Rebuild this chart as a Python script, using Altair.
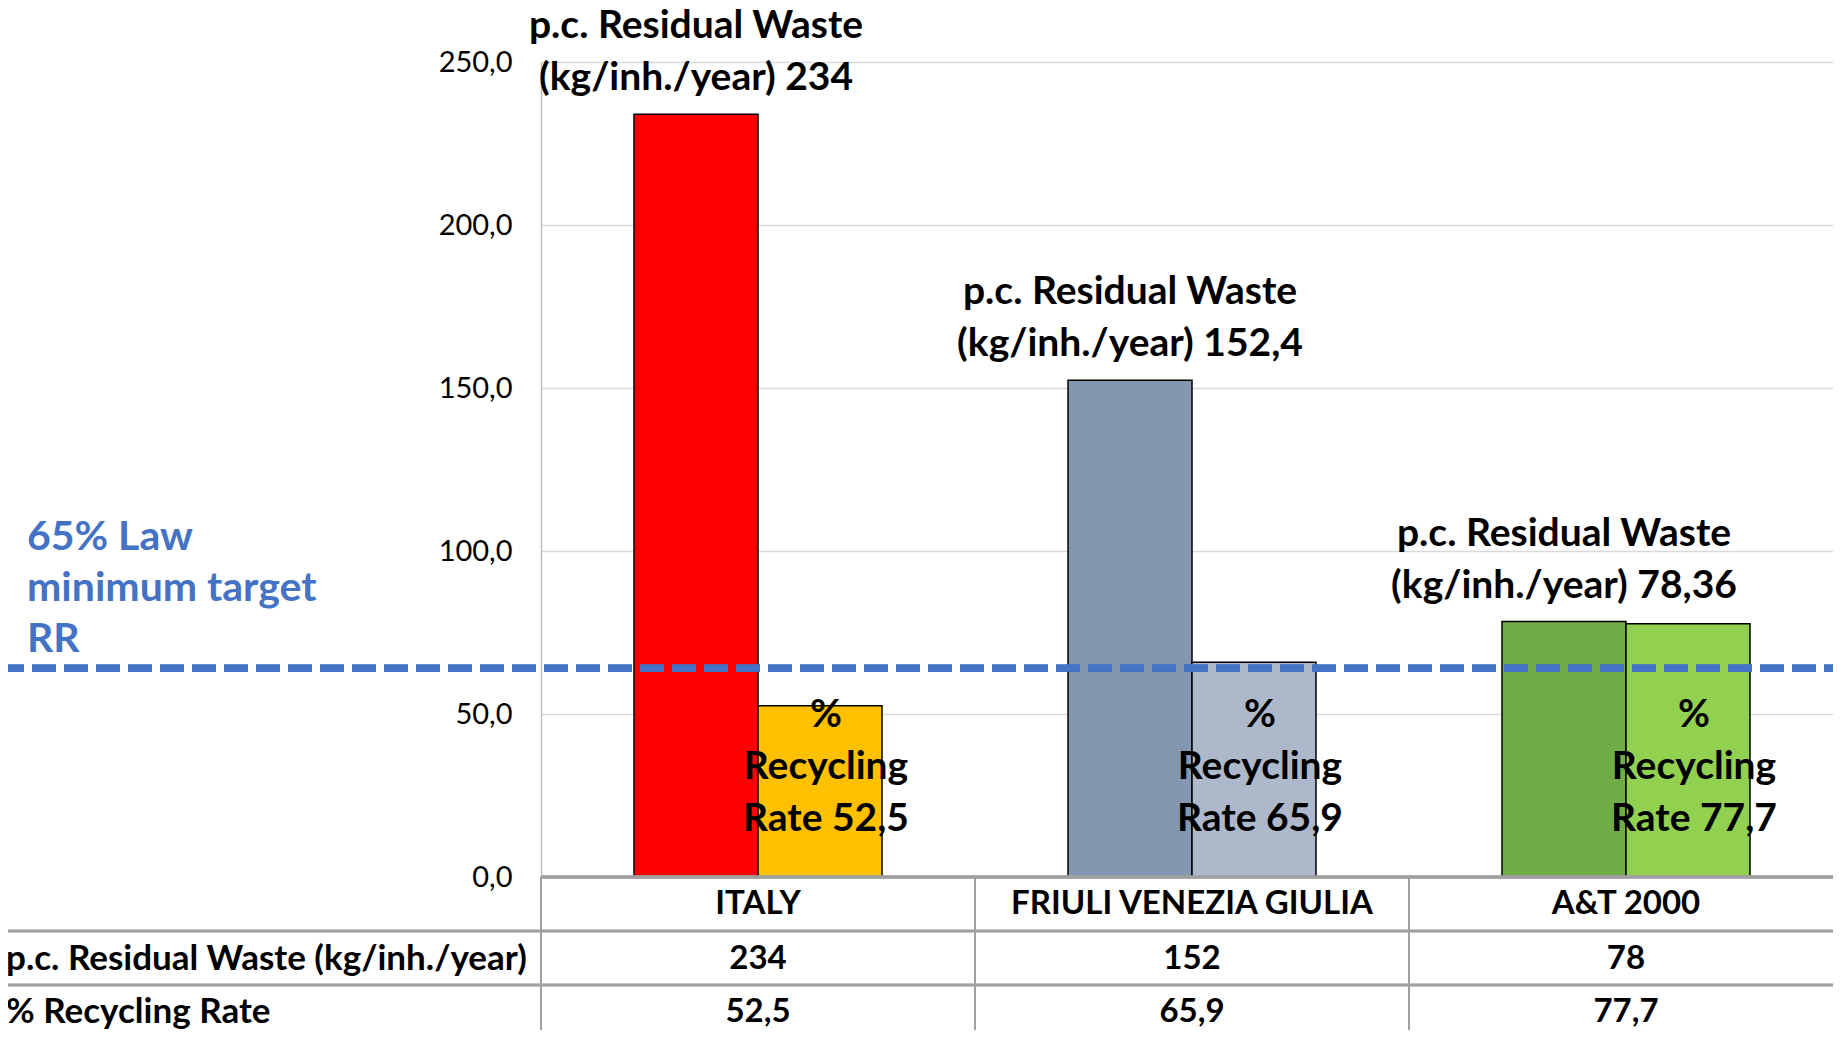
import altair as alt
import pandas as pd

# ---------------- data ----------------
categories = ["ITALY", "FRIULI VENEZIA GIULIA", "A&T 2000"]
residual_waste = [234, 152.4, 78.36]          # kg/inh./year
recycling_rate = [52.5, 65.9, 77.7]           # %
waste_table = ["234", "152", "78"]
rate_table = ["52,5", "65,9", "77,7"]
row_labels = ["p.c. Residual Waste (kg/inh./year)", "% Recycling Rate"]
law_level = 64.0
law_text = "65% Law\nminimum target\nRR"

# ---------------- styles ----------------
waste_colors = ["#FF0000", "#8497B0", "#70AD47"]
rate_colors = ["#FFC000", "#ADB9CA", "#92D050"]
FONT = "Lato"
W, H = 1292, 815
XRANGE = 1302
PAD = {"left": 533, "top": 54, "right": 0, "bottom": 153}
LBL = 39


def fmt(v):
    s = f"{v:g}"
    return s.replace(".", ",")


rows = []
for c, w, r in zip(categories, residual_waste, recycling_rate):
    rows.append(dict(cat=c, series="waste", value=w, key=c + " waste",
                     label="p.c. Residual Waste\n(kg/inh./year) " + fmt(w)))
    rows.append(dict(cat=c, series="rate", value=r, key=c + " rate",
                     label="%\nRecycling\nRate " + fmt(r)))
bars_df = pd.DataFrame(rows)
keys = list(bars_df["key"])
colors = []
for wc, rc in zip(waste_colors, rate_colors):
    colors += [wc, rc]

table_df = pd.DataFrame({"cat": categories, "waste": waste_table, "rate": rate_table})

xscale = alt.Scale(domain=categories, paddingInner=0, paddingOuter=0, range=[0, XRANGE])
xenc = alt.X("cat:N", sort=categories, axis=None, scale=xscale)
xoff = alt.XOffset("series:N", sort=["waste", "rate"],
                   scale=alt.Scale(domain=["waste", "rate"], paddingInner=0, paddingOuter=0.75))
yscale = alt.Scale(domain=[0, 250], nice=False)

base = alt.Chart(bars_df)

bars = base.mark_bar(stroke="black", strokeWidth=1.5).encode(
    x=xenc, xOffset=xoff,
    y=alt.Y("value:Q", scale=yscale, title=None,
            axis=alt.Axis(values=[0, 50, 100, 150, 200, 250],
                          labelExpr="replace(format(datum.value, '.1f'), '.', ',')",
                          labelFont=FONT, labelFontSize=29, labelColor="#000000",
                          labelPadding=29, ticks=False,
                          grid=True, gridColor="#D9D9D9", gridWidth=1.5,
                          domainColor="#BFBFBF", domainWidth=1.5)),
    color=alt.Color("key:N", scale=alt.Scale(domain=keys, range=colors), legend=None),
)

waste_labels = base.transform_filter(alt.datum.series == "waste").mark_text(
    font=FONT, fontSize=LBL, fontWeight="bold", color="black", lineBreak="\n",
    baseline="middle", align="center", lineHeight=52, dy=-88,
).encode(x=xenc, xOffset=xoff, y=alt.Y("value:Q", scale=yscale), text="label:N")

rate_labels = base.transform_filter(alt.datum.series == "rate").mark_text(
    font=FONT, fontSize=LBL, fontWeight="bold", color="black", lineBreak="\n",
    baseline="middle", align="center", lineHeight=52, dx=6, dy=-51,
).encode(x=xenc, xOffset=xoff, y=alt.Y(datum=34, scale=yscale), text="label:N")

law_line = alt.Chart(bars_df).mark_rule(
    color="#4472C4", strokeWidth=7, strokeDash=[24, 8]
).encode(x=alt.value(-541), x2=alt.value(XRANGE), y=alt.Y(datum=law_level, scale=yscale))

law_label = alt.Chart(pd.DataFrame({"t": [law_text]})).mark_text(
    font=FONT, fontSize=41, fontWeight="bold", color="#4472C4", lineBreak="\n",
    baseline="middle", align="left", lineHeight=51,
).encode(x=alt.value(-514), y=alt.value(476), text="t:N")

# ---------------- table ----------------
GRAY = "#A0A0A0"
tbl = alt.Chart(table_df)
zero_line = tbl.mark_rule(color=GRAY, strokeWidth=3).encode(
    x=alt.value(0), x2=alt.value(XRANGE), y=alt.value(H))
row_line1 = tbl.mark_rule(color=GRAY, strokeWidth=2.5).encode(
    x=alt.value(-541), x2=alt.value(XRANGE), y=alt.value(869))
row_line2 = tbl.mark_rule(color=GRAY, strokeWidth=2.5).encode(
    x=alt.value(-541), x2=alt.value(XRANGE), y=alt.value(923))
col_lines = tbl.mark_rule(color=GRAY, strokeWidth=2).encode(
    x=alt.X("cat:N", sort=categories, bandPosition=0, axis=None, scale=xscale),
    y=alt.value(H), y2=alt.value(H + 170))

tfont = dict(font=FONT, fontWeight="bold", color="black", baseline="middle")
header = tbl.mark_text(align="center", fontSize=33, **tfont).encode(
    x=xenc, y=alt.value(842), text="cat:N")
waste_vals = tbl.mark_text(align="center", fontSize=33, **tfont).encode(
    x=xenc, y=alt.value(897), text="waste:N")
rate_vals = tbl.mark_text(align="center", fontSize=33, **tfont).encode(
    x=xenc, y=alt.value(950), text="rate:N")
row_text1 = alt.Chart(pd.DataFrame({"r": [row_labels[0]]})).mark_text(
    align="left", fontSize=35, **tfont).encode(x=alt.value(-535), y=alt.value(897), text="r:N")
row_text2 = alt.Chart(pd.DataFrame({"r": [row_labels[1]]})).mark_text(
    align="left", fontSize=35, **tfont).encode(x=alt.value(-535), y=alt.value(950), text="r:N")

chart = alt.layer(
    bars, zero_line, row_line1, row_line2, col_lines,
    law_line, waste_labels, rate_labels, law_label,
    header, waste_vals, rate_vals, row_text1, row_text2,
).properties(
    width=W, height=H,
    padding=PAD,
    autosize=alt.AutoSizeParams(type="none"),
).configure_view(stroke=None)

chart.save("out.html", embed_options={"renderer": "svg", "actions": False})
